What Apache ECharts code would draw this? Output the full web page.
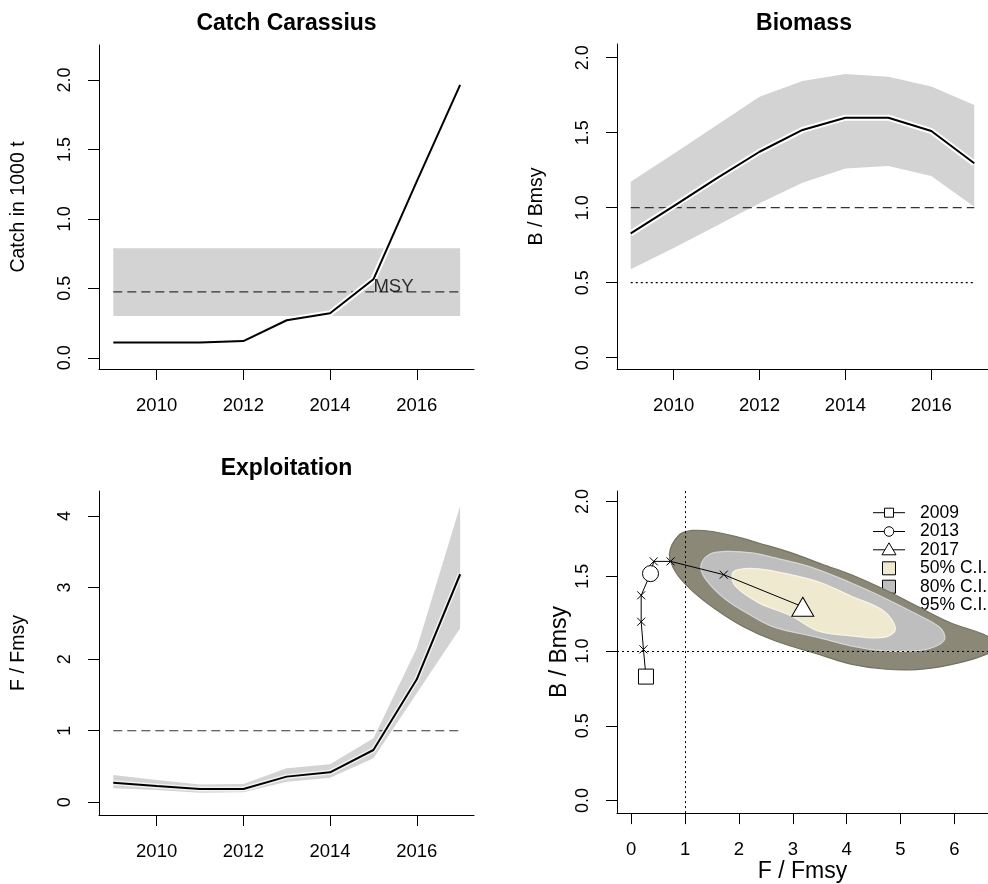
<!DOCTYPE html>
<html><head><meta charset="utf-8">
<script src="https://cdn.jsdelivr.net/npm/echarts@6/dist/echarts.min.js"></script>
<style>html,body{margin:0;padding:0;background:#fff}#c{width:988px;height:884px}</style>
</head><body><div id="c"></div>
<script>
// ---------------- data ----------------
const years = [2009, 2010, 2011, 2012, 2013, 2014, 2015, 2016, 2017];
const yearTicks = [2010, 2012, 2014, 2016];
const catchVals = [0.11, 0.11, 0.11, 0.12, 0.27, 0.32, 0.565, 1.27, 1.965];
const msyYears = [2009, 2017];
const msyVal = 0.475, msyLo = 0.30, msyHi = 0.788;
const msyLabelYear = 2015;
const bMean = [0.829, 1.011, 1.196, 1.373, 1.518, 1.600, 1.600, 1.511, 1.296];
const bLo = [0.589, 0.731, 0.880, 1.029, 1.167, 1.262, 1.278, 1.211, 1.007];
const bHi = [1.173, 1.360, 1.550, 1.740, 1.845, 1.891, 1.873, 1.807, 1.685];
const fMean = [0.275, 0.228, 0.186, 0.186, 0.359, 0.419, 0.731, 1.719, 3.186];
const fLo = [0.196, 0.172, 0.135, 0.140, 0.289, 0.345, 0.615, 1.523, 2.431];
const fHi = [0.382, 0.312, 0.250, 0.256, 0.475, 0.531, 0.894, 2.152, 4.140];
const bRef = 1.0, bLim = 0.5, fRef = 1.0;
const catchTicks = [0, 0.5, 1.0, 1.5, 2.0];
const bTicks = [0, 0.5, 1.0, 1.5, 2.0];
const fTicks = [0, 1, 2, 3, 4];
const kobeXTicks = [0, 1, 2, 3, 4, 5, 6];
// confidence contours for the Kobe plot: [F/Fmsy, B/Bmsy]
const ci95 = [[0.711,1.650],[0.894,1.778],[1.139,1.807],[1.506,1.800],[1.936,1.767],[2.364,1.723],[2.975,1.657],[3.557,1.579],[4.077,1.512],[4.691,1.413],[5.302,1.301],[5.914,1.191],[6.527,1.113],[6.84,1.04],[6.527,0.969],[5.914,0.907],[5.302,0.876],[4.691,0.880],[4.077,0.913],[3.557,0.969],[2.670,1.069],[2.057,1.168],[1.568,1.279],[1.139,1.401],[0.834,1.524]];
const ci80 = [[1.293,1.568],[1.445,1.645],[1.752,1.667],[2.241,1.657],[2.670,1.623],[3.282,1.568],[4.077,1.457],[4.691,1.357],[5.302,1.246],[5.730,1.158],[5.822,1.080],[5.609,1.025],[5.302,1.002],[4.691,1.002],[4.077,1.035],[3.466,1.091],[2.670,1.158],[2.241,1.235],[1.752,1.346],[1.385,1.480]];
const ci50 = [[1.873,1.512],[1.996,1.545],[2.364,1.550],[2.975,1.510],[3.500,1.460],[4.077,1.368],[4.691,1.268],[4.904,1.146],[4.691,1.091],[4.077,1.102],[3.466,1.135],[2.975,1.235],[2.364,1.324],[1.936,1.434]];
const legendLabels = ['2009', '2013', '2017', '50% C.I.', '80% C.I.', '95% C.I.'];
const titles = ['Catch Carassius', 'Biomass', 'Exploitation'];

// ---------------- styling helpers ----------------
const FONT = 'Liberation Sans, Arial, sans-serif';
const ciColors = ['#EFEACF', '#BEBEBE', '#8B8878'];
const bandColor = '#D3D3D3';

function xAxisCfg(gridIndex, min, max, ticks, fmt, name) {
  return {
    type: 'value', gridIndex, min, max,
    name: name || '', nameLocation: 'middle', nameGap: 45,
    nameTextStyle: { fontFamily: FONT, fontSize: 23, color: '#000' },
    axisLine: { show: true, onZero: false, lineStyle: { color: '#000', width: 1 } },
    axisTick: { show: true, inside: false, length: 11, customValues: ticks, lineStyle: { color: '#000', width: 1 } },
    axisLabel: { show: true, customValues: ticks, formatter: fmt, margin: 27, fontSize: 18.5, fontFamily: FONT, color: '#000' },
    splitLine: { show: false }
  };
}
function yAxisCfg(gridIndex, min, max, ticks, fmt, name, nameGap, nameSize) {
  return {
    type: 'value', gridIndex, min, max,
    name, nameLocation: 'middle', nameGap, nameRotate: 90,
    nameTextStyle: { fontFamily: FONT, fontSize: nameSize, color: '#000' },
    axisLine: { show: true, onZero: false, lineStyle: { color: '#000', width: 1 } },
    axisTick: { show: true, inside: false, length: 11, customValues: ticks, lineStyle: { color: '#000', width: 1 } },
    axisLabel: { show: true, rotate: 90, customValues: ticks, formatter: fmt, margin: 25, fontSize: 18, fontFamily: FONT, color: '#000' },
    splitLine: { show: false }
  };
}
const yearFmt = v => String(v);
const oneDec = v => Number(v).toFixed(1);
const intFmt = v => String(Math.round(v));

function bandSeries(gi, xs, lo, hi, color, z) {
  return {
    type: 'custom', xAxisIndex: gi, yAxisIndex: gi, z, silent: true,
    data: xs.map((x, i) => [x, lo[i], hi[i]]),
    encode: { x: 0, y: [1, 2] },
    renderItem: function (params, api) {
      if (params.dataIndex !== 0) return null;
      const pts = [];
      xs.forEach((x, i) => pts.push(api.coord([x, hi[i]])));
      for (let i = xs.length - 1; i >= 0; i--) pts.push(api.coord([xs[i], lo[i]]));
      return { type: 'polygon', shape: { points: pts }, style: { fill: color, stroke: null } };
    }
  };
}
function contourSeries(gi, pts, color, stroke, z) {
  return {
    type: 'custom', xAxisIndex: gi, yAxisIndex: gi, z, silent: true,
    data: pts, encode: { x: 0, y: 1 },
    renderItem: function (params, api) {
      if (params.dataIndex !== 0) return null;
      return { type: 'polygon', shape: { points: pts.map(p => api.coord(p)), smooth: 0.35 },
        style: { fill: color, stroke: stroke, lineWidth: 1.2 } };
    }
  };
}
function lineSeries(gi, data, color, width, type, z) {
  return {
    type: 'line', xAxisIndex: gi, yAxisIndex: gi, z, silent: true,
    data, showSymbol: false, symbol: 'none',
    lineStyle: { color, width, type }
  };
}
const pairs = (xs, ys) => xs.map((x, i) => [x, ys[i]]);

// ---------------- Kobe trajectory ----------------
const kobeData = fMean.map((f, i) => {
  const item = { value: [f, bMean[i]] };
  if (i === 0) { item.symbol = 'rect'; item.symbolSize = 15; item.itemStyle = { color: '#fff', borderColor: '#000', borderWidth: 1 }; }
  else if (i === 4) { item.symbol = 'circle'; item.symbolSize = 16; item.itemStyle = { color: '#fff', borderColor: '#000', borderWidth: 1 }; }
  else if (i === fMean.length - 1) { item.symbol = 'triangle'; item.symbolSize = [22, 19]; item.itemStyle = { color: '#fff', borderColor: '#000', borderWidth: 1 }; }
  else { item.symbol = 'path://M0,0L10,10M10,0L0,10'; item.symbolSize = 8; item.itemStyle = { color: 'none', borderColor: '#000', borderWidth: 1 }; }
  return item;
});

// ---------------- legend (graphic) ----------------
const legG = [];
const rowY = [512.7, 531.5, 549.8, 568.3, 586.7, 605];
const legSym = ['rect', 'circle', 'triangle'];
legendLabels.forEach((lab, i) => {
  const y = rowY[i];
  if (i < 3) {
    legG.push({ type: 'line', shape: { x1: 873, y1: y, x2: 905, y2: y }, style: { stroke: '#000', lineWidth: 1 } });
    if (legSym[i] === 'rect') legG.push({ type: 'rect', shape: { x: 884.5, y: y - 4.5, width: 9, height: 9 }, style: { fill: '#fff', stroke: '#000', lineWidth: 1 } });
    if (legSym[i] === 'circle') legG.push({ type: 'circle', shape: { cx: 889, cy: y, r: 4.8 }, style: { fill: '#fff', stroke: '#000', lineWidth: 1 } });
    if (legSym[i] === 'triangle') legG.push({ type: 'polygon', shape: { points: [[889, y - 7], [882, y + 5], [896, y + 5]] }, style: { fill: '#fff', stroke: '#000', lineWidth: 1 } });
  } else {
    legG.push({ type: 'rect', shape: { x: 882.5, y: y - 6.5, width: 13, height: 13 }, style: { fill: ciColors[i - 3], stroke: '#000', lineWidth: 1 } });
  }
  legG.push({ type: 'text', x: 920, y: y, style: { text: lab, fill: '#000', font: '17.5px ' + FONT, textAlign: 'left', textVerticalAlign: 'middle' } });
});

const option = {
  animation: false,
  backgroundColor: '#fff',
  textStyle: { fontFamily: FONT },
  title: [
    { text: titles[0], left: 286.5, top: 12, textAlign: 'center', padding: 0, textStyle: { fontSize: 23, fontWeight: 'bold', fontFamily: FONT, color: '#000' } },
    { text: titles[1], left: 804, top: 12, textAlign: 'center', padding: 0, textStyle: { fontSize: 23, fontWeight: 'bold', fontFamily: FONT, color: '#000' } },
    { text: titles[2], left: 286.5, top: 457.5, textAlign: 'center', padding: 0, textStyle: { fontSize: 23, fontWeight: 'bold', fontFamily: FONT, color: '#000' } }
  ],
  grid: [
    { left: 99, top: 45, width: 375, height: 324 },
    { left: 617, top: 44, width: 375, height: 325 },
    { left: 99, top: 491, width: 375, height: 324 },
    { left: 617, top: 491, width: 375, height: 324 }
  ],
  xAxis: [
    xAxisCfg(0, 2008.67, 2017.32, yearTicks, yearFmt),
    xAxisCfg(1, 2008.68, 2017.32, yearTicks, yearFmt),
    xAxisCfg(2, 2008.67, 2017.32, yearTicks, yearFmt),
    xAxisCfg(3, -0.263, 6.624, kobeXTicks, intFmt, 'F / Fmsy')
  ],
  yAxis: [
    yAxisCfg(0, -0.081, 2.252, catchTicks, oneDec, 'Catch in 1000 t', 70, 19.5),
    yAxisCfg(1, -0.075, 2.091, bTicks, oneDec, 'B / Bmsy', 70, 19.5),
    yAxisCfg(2, -0.177, 4.349, fTicks, intFmt, 'F / Fmsy', 70, 19.5),
    yAxisCfg(3, -0.0845, 2.071, bTicks, oneDec, 'B / Bmsy', 46, 23)
  ],
  graphic: legG,
  series: [
    // Catch panel
    bandSeries(0, msyYears, [msyLo, msyLo], [msyHi, msyHi], bandColor, 1),
    lineSeries(0, pairs(msyYears, [msyVal, msyVal]), '#333', 1.2, [9, 5], 2),
    lineSeries(0, pairs(years, catchVals), '#fff', 6, 'solid', 3),
    lineSeries(0, pairs(years, catchVals), '#000', 2, 'solid', 4),
    {
      type: 'scatter', xAxisIndex: 0, yAxisIndex: 0, z: 5, silent: true,
      data: [[msyLabelYear, msyVal]], symbolSize: 0, itemStyle: { color: 'rgba(0,0,0,0)' },
      label: { show: true, formatter: 'MSY', position: 'right', distance: 0, offset: [0, -5], fontSize: 18.5, fontFamily: FONT, color: '#000' }
    },
    // Biomass panel
    bandSeries(1, years, bLo, bHi, bandColor, 1),
    lineSeries(1, pairs(msyYears, [bRef, bRef]), '#333', 1.2, [9, 5], 2),
    lineSeries(1, pairs(msyYears, [bLim, bLim]), '#000', 1.2, [2, 3], 2),
    lineSeries(1, pairs(years, bMean), '#fff', 6, 'solid', 3),
    lineSeries(1, pairs(years, bMean), '#000', 2, 'solid', 4),
    // Exploitation panel
    bandSeries(2, years, fLo, fHi, bandColor, 1),
    lineSeries(2, pairs(msyYears, [fRef, fRef]), '#333', 1.2, [9, 5], 2),
    lineSeries(2, pairs(years, fMean), '#f2f2f2', 5, 'solid', 3),
    lineSeries(2, pairs(years, fMean), '#000', 2, 'solid', 4),
    // Kobe panel
    contourSeries(3, ci95, ciColors[2], '#75725f', 1),
    contourSeries(3, ci80, ciColors[1], '#d6d6d6', 2),
    contourSeries(3, ci50, ciColors[0], '#f8f5e6', 3),
    {
      type: 'line', xAxisIndex: 3, yAxisIndex: 3, z: 4, silent: true, data: [],
      markLine: {
        silent: true, symbol: ['none', 'none'], label: { show: false },
        lineStyle: { color: '#000', width: 1, type: [2, 3] },
        data: [{ xAxis: fRef }, { yAxis: bRef }]
      }
    },
    {
      type: 'line', xAxisIndex: 3, yAxisIndex: 3, z: 5, silent: true,
      data: kobeData, showSymbol: true, showAllSymbol: true,
      lineStyle: { color: '#000', width: 1 }
    }
  ]
};
const chart = echarts.init(document.getElementById('c'), null, { renderer: 'canvas' });
chart.setOption(option);
</script>
</body></html>
